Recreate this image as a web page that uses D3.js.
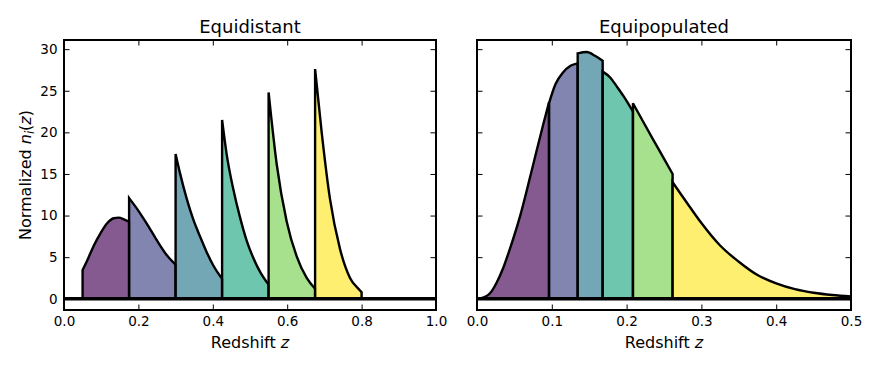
<!DOCTYPE html>
<html>
<head>
  <meta charset="utf-8">
  <title>Normalized n_i(z): Equidistant vs Equipopulated</title>
  <style>
    body { margin: 0; background: #fff; }
    text { font-family: "DejaVu Sans", sans-serif; fill: #000; }
  </style>
</head>
<body>
  <script src="https://d3js.org/d3.v7.min.js"></script>
  <script>
    // bin curves: [z, normalized n_i(z)]
    var equidistantBins = [
      [[0.05, 3.45], [0.063, 4.66], [0.080, 6.38], [0.098, 7.87], [0.116, 9.07], [0.134, 9.68], [0.147, 9.75], [0.161, 9.55], [0.175, 9.25]],
      [[0.175, 12.1], [0.195, 10.9], [0.222, 9.07], [0.249, 7.07], [0.276, 5.26], [0.3, 4.1]],
      [[0.3, 17.4], [0.3118, 15.1], [0.33, 12.0], [0.3477, 9.5], [0.3656, 7.5], [0.3836, 5.6], [0.4014, 4.0], [0.425, 2.4]],
      [[0.425, 21.5], [0.4375, 17.3], [0.455, 13.2], [0.4725, 9.9], [0.491, 7.0], [0.509, 4.9], [0.5275, 3.2], [0.55, 1.7]],
      [[0.55, 24.8], [0.5717, 16.2], [0.5986, 9.3], [0.6255, 5.1], [0.6524, 2.5], [0.675, 1.2]],
      [[0.675, 27.6], [0.6927, 20.0], [0.715, 12.0], [0.7419, 6.0], [0.7688, 2.5], [0.7957, 1.0], [0.8, 0.78]]
    ];

    var equipopulatedBins = [
      [[0, 0], [0.01, 0.2], [0.0174, 0.66], [0.026, 1.9], [0.035, 3.7], [0.044, 6.0], [0.0575, 9.9], [0.0709, 14.6], [0.08, 17.9], [0.0887, 21.0], [0.0963, 23.6]],
      [[0.0963, 23.5], [0.105, 25.8], [0.115, 27.2], [0.125, 28.0], [0.1346, 28.3]],
      [[0.1346, 29.5], [0.1466, 29.65], [0.1578, 29.2], [0.168, 28.6]],
      [[0.168, 27.3], [0.178, 26.6], [0.187, 25.5], [0.197, 24.2], [0.2085, 22.5]],
      [[0.2085, 23.5], [0.222, 21.3], [0.2357, 19.1], [0.249, 17.0], [0.2615, 15.0]],
      [[0.2615, 14.0], [0.2848, 11.0], [0.3, 9.1], [0.325, 6.4], [0.35, 4.45], [0.375, 2.85], [0.4, 1.85], [0.425, 1.15], [0.45, 0.72], [0.475, 0.45], [0.5, 0.28]]
    ];

    var titles = ["Equidistant", "Equipopulated"];
    var xMaxes = [1.0, 0.5];
    var xTicksLeft = [0, 0.2, 0.4, 0.6, 0.8, 1.0];
    var xTicksRight = [0, 0.1, 0.2, 0.3, 0.4, 0.5];
    var yTicks = [0, 5, 10, 15, 20, 25, 30];
    var yDomain = [-1.35, 31.1];

    var width = 880, height = 368;
    var plotTop = 40, plotBottom = 310;
    var panelX = [[64, 436], [477, 851]];
    var tickLen = 5.5;

    var svg = d3.select("body").append("svg")
        .attr("width", width)
        .attr("height", height);

    var y = d3.scaleLinear().domain(yDomain).range([plotBottom, plotTop]);

    function drawPanel(p) {
      var bins = p === 0 ? equidistantBins : equipopulatedBins;
      var xTicks = p === 0 ? xTicksLeft : xTicksRight;
      var x = d3.scaleLinear().domain([0, xMaxes[p]]).range(panelX[p]);
      var x0 = panelX[p][0], x1 = panelX[p][1];

      var clipId = "clip" + p;
      svg.append("clipPath").attr("id", clipId)
        .append("rect")
        .attr("x", x0).attr("y", plotTop)
        .attr("width", x1 - x0).attr("height", plotBottom - plotTop);

      var plot = svg.append("g").attr("clip-path", "url(#" + clipId + ")");

      var area = d3.area()
          .x(function(d) { return x(d[0]); })
          .y0(y(0))
          .y1(function(d) { return y(d[1]); })
          .curve(d3.curveMonotoneX);

      plot.selectAll("path.bin")
        .data(bins)
        .enter().append("path")
        .attr("class", "bin")
        .attr("d", area)
        .attr("fill", function(d, i) { return d3.interpolateViridis(i / (bins.length - 1)); })
        .attr("fill-opacity", 0.65)
        .attr("stroke", "#000")
        .attr("stroke-width", 2.4)
        .attr("stroke-linejoin", "miter");

      // zero line
      plot.append("line")
        .attr("x1", x0).attr("x2", x1)
        .attr("y1", y(0)).attr("y2", y(0))
        .attr("stroke", "#000")
        .attr("stroke-width", 3.4);

      // axes, ticks pointing inwards
      var bottomAxis = svg.append("g")
          .attr("transform", "translate(0," + plotBottom + ")")
          .call(d3.axisBottom(x).tickValues(xTicks).tickFormat(d3.format(".1f"))
                .tickSize(-tickLen).tickPadding(6));
      svg.append("g")
          .attr("transform", "translate(0," + plotTop + ")")
          .call(d3.axisTop(x).tickValues(xTicks).tickFormat("").tickSize(-tickLen));
      var leftAxis = svg.append("g")
          .attr("transform", "translate(" + x0 + ",0)")
          .call(d3.axisLeft(y).tickValues(yTicks)
                .tickFormat(p === 0 ? d3.format("d") : "")
                .tickSize(-tickLen).tickPadding(6.5));
      svg.append("g")
          .attr("transform", "translate(" + x1 + ",0)")
          .call(d3.axisRight(y).tickValues(yTicks).tickFormat("").tickSize(-tickLen));

      svg.selectAll(".domain").remove();
      svg.selectAll(".tick line").attr("stroke", "#000").attr("stroke-width", 1);
      bottomAxis.selectAll("text").attr("font-family", "DejaVu Sans").attr("font-size", 13.5).attr("fill", "#000");
      leftAxis.selectAll("text").attr("font-family", "DejaVu Sans").attr("font-size", 13.5).attr("fill", "#000");

      // frame
      svg.append("rect")
        .attr("x", x0).attr("y", plotTop)
        .attr("width", x1 - x0).attr("height", plotBottom - plotTop)
        .attr("fill", "none")
        .attr("stroke", "#000")
        .attr("stroke-width", 2);

      // title
      svg.append("text")
        .attr("x", (x0 + x1) / 2)
        .attr("y", 32.5)
        .attr("text-anchor", "middle")
        .style("font-size", "18px")
        .text(titles[p]);

      // x label
      var xl = svg.append("text")
        .attr("x", (x0 + x1) / 2)
        .attr("y", 348)
        .attr("text-anchor", "middle")
        .style("font-size", "16px");
      xl.append("tspan").text("Redshift ");
      xl.append("tspan").style("font-style", "italic").text("z");
    }

    drawPanel(0);
    drawPanel(1);

    // y label
    var yl = svg.append("text")
      .attr("transform", "translate(30.5," + ((plotTop + plotBottom) / 2) + ") rotate(-90)")
      .attr("text-anchor", "middle")
      .style("font-size", "16px");
    yl.append("tspan").text("Normalized ");
    yl.append("tspan").style("font-style", "italic").text("n");
    yl.append("tspan").style("font-style", "italic").style("font-size", "11.5px").attr("dy", 3).text("i");
    yl.append("tspan").attr("dy", -3).text("(");
    yl.append("tspan").style("font-style", "italic").text("z");
    yl.append("tspan").text(")");
  </script>
</body>
</html>
